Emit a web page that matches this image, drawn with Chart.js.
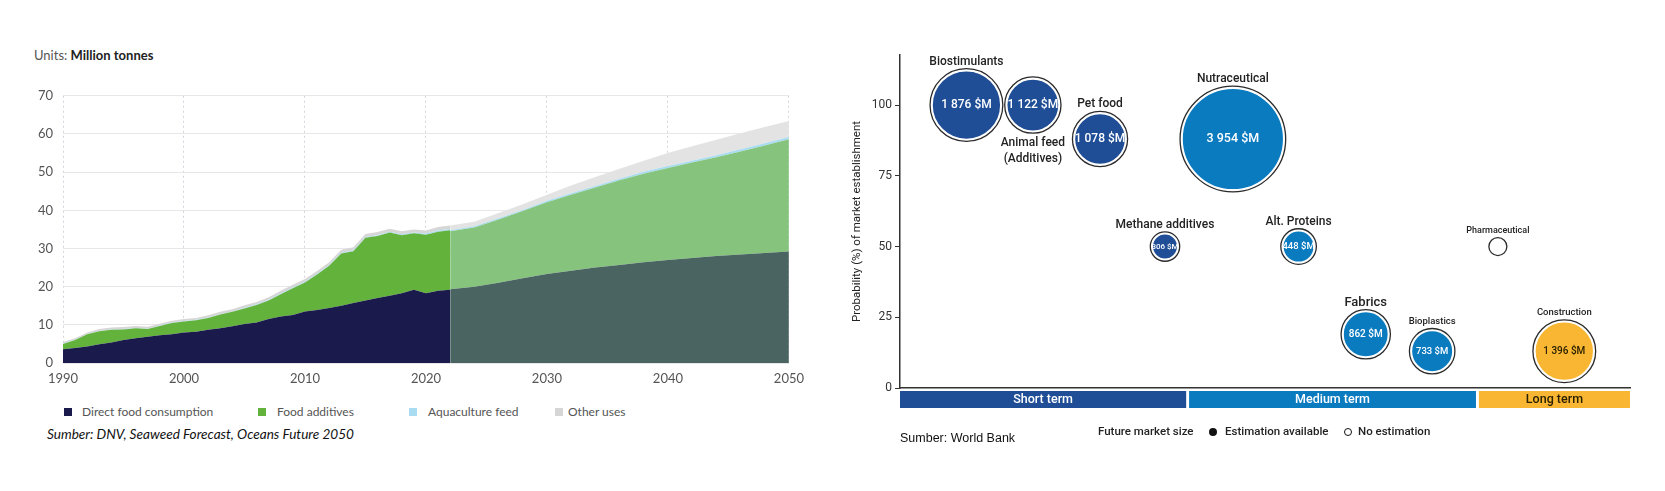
<!DOCTYPE html>
<html lang="en">
<head>
<meta charset="utf-8">
<title>Seaweed</title>
<script src="https://cdn.jsdelivr.net/npm/chart.js@4.4.1/dist/chart.umd.min.js"></script>
<style>
  body { margin: 0; width: 1665px; height: 491px; background: #fff; position: relative; overflow: hidden; }
  .abs { position: absolute; white-space: nowrap; }
  #units { left: 34px; top: 47px; font: 13px Lato, sans-serif; color: #555; }
  #units b { color: #222; }
  .lg { font: 12px Lato, sans-serif; color: #555; top: 404px; }
  .sq { position: absolute; width: 8px; height: 8px; top: 408px; }
  #src1 { left: 47px; top: 426px; font: italic 13.6px Lato, sans-serif; color: #111; }
  #src2 { left: 900px; top: 431px; font: 12.5px "Liberation Sans", sans-serif; color: #111; }
  .rl { top: 424px; font: 500 11.5px Roboto, sans-serif; color: #222; }
  .dot { position: absolute; width: 8px; height: 8px; border-radius: 50%; top: 428px; box-sizing: border-box; }
  #left { position: absolute; left: 2px; top: 78px; }
  #right { position: absolute; left: 842px; top: 40px; }
</style>
</head>
<body>
<div id="units" class="abs">Units: <b>Million tonnes</b></div>
<canvas id="left" width="810" height="316" style="width:810px;height:316px"></canvas>
<canvas id="right" width="790" height="385" style="width:790px;height:385px"></canvas>

<div class="sq" style="left:64px;background:#1b1a4d"></div>
<div class="abs lg" style="left:82px">Direct food consumption</div>
<div class="sq" style="left:258px;background:#63b23b"></div>
<div class="abs lg" style="left:277px">Food additives</div>
<div class="sq" style="left:409px;background:#a9dcf0"></div>
<div class="abs lg" style="left:428px">Aquaculture feed</div>
<div class="sq" style="left:555px;background:#d6d6d6"></div>
<div class="abs lg" style="left:568px">Other uses</div>
<div id="src1" class="abs">Sumber: DNV, Seaweed Forecast, Oceans Future 2050</div>

<div class="abs rl" style="left:1098px">Future market size</div>
<div class="dot" style="left:1209px;background:#111"></div>
<div class="abs rl" style="left:1225px">Estimation available</div>
<div class="dot" style="left:1344px;border:1.3px solid #111"></div>
<div class="abs rl" style="left:1358px">No estimation</div>
<div id="src2" class="abs">Sumber: World Bank</div>

<script>
// ---- left chart: seaweed use, million tonnes ----
const seriesNames = ['Direct food consumption', 'Food additives', 'Aquaculture feed', 'Other uses'];

const histYears = [1990,1991,1992,1993,1994,1995,1996,1997,1998,1999,2000,2001,2002,2003,2004,2005,
                   2006,2007,2008,2009,2010,2011,2012,2013,2014,2015,2016,2017,2018,2019,2020,2021,2022];
const histDirect = [3.6,3.9,4.3,4.9,5.4,6.0,6.5,6.9,7.3,7.5,8.0,8.2,8.7,9.1,9.6,10.2,
                    10.6,11.5,12.2,12.6,13.5,13.9,14.4,15.0,15.7,16.4,17.0,17.6,18.3,19.2,18.3,18.9,19.2];
const histAdditives = [1.4,2.1,3.2,3.4,3.3,2.8,2.6,2.0,2.4,3.0,2.9,3.0,3.1,3.6,3.8,4.1,
                       4.6,4.9,5.8,7.0,7.6,9.3,11.1,13.7,13.6,16.4,16.3,16.6,15.2,14.8,15.3,15.5,15.6];
const histAqua = [0.1,0.1,0.1,0.1,0.1,0.1,0.1,0.1,0.1,0.1,0.1,0.1,0.1,0.1,0.1,0.2,
                  0.2,0.2,0.2,0.2,0.2,0.2,0.2,0.2,0.2,0.2,0.2,0.2,0.2,0.2,0.3,0.3,0.3];
const histOther = [0.4,0.4,0.4,0.5,0.5,0.5,0.5,0.5,0.5,0.5,0.5,0.5,0.6,0.6,0.6,0.6,
                   0.6,0.6,0.7,0.7,0.7,0.7,0.7,0.8,0.8,0.8,0.8,0.8,0.8,0.8,0.8,0.9,0.9];

const projYears = [2022,2024,2026,2028,2030,2032,2034,2036,2038,2040,2042,2044,2046,2048,2050];
const projDirect = [19.3,20.0,21.0,22.2,23.3,24.2,25.0,25.7,26.4,27.0,27.5,28.0,28.4,28.8,29.2];
const projAdditives = [15.2,15.5,16.6,17.6,18.8,19.9,21.0,22.2,23.2,24.1,25.0,25.9,27.0,28.2,29.4];
const projAqua = [0.3,0.3,0.3,0.3,0.4,0.4,0.4,0.4,0.5,0.5,0.5,0.5,0.6,0.6,0.6];
const projOther = [1.2,1.2,1.4,1.5,1.6,2.0,2.3,2.6,2.9,3.4,3.8,4.1,4.2,4.2,4.2];

const yearTicks = [1990,2000,2010,2020,2030,2040,2050];
const tonneTicks = [0,10,20,30,40,50,60,70];

const histColors = ['#1b1a4d', '#63b23b', '#a9dcf0', '#d6d6d6'];
const projColors = ['#4a6462', '#86c47e', '#a9dcf0', '#e3e3e3'];

function areaSets(years, series, colors, stack) {
    return series.map((vals, i) => ({
        label: seriesNames[i],
        data: years.map((yr, j) => ({ x: yr, y: vals[j] })),
        stack: stack,
        fill: i === 0 ? 'origin' : '-1',
        backgroundColor: colors[i],
        borderWidth: 0,
        pointRadius: 0,
        tension: 0
    }));
}

const leftFont = { family: 'Lato', size: 13 };

new Chart(document.getElementById('left'), {
    type: 'line',
    data: {
        datasets: [
            ...areaSets(histYears, [histDirect, histAdditives, histAqua, histOther], histColors, 'hist'),
            ...areaSets(projYears, [projDirect, projAdditives, projAqua, projOther], projColors, 'proj')
        ]
    },
    options: {
        responsive: false,
        animation: false,
        layout: { autoPadding: false, padding: { top: 3, right: 20 } },
        plugins: { legend: { display: false }, tooltip: { enabled: false } },
        scales: {
            x: {
                type: 'linear', min: 1990, max: 2050, z: 1,
                afterBuildTicks: s => { s.ticks = yearTicks.map(v => ({ value: v })); },
                afterFit: s => { s.height = 31; },
                ticks: { font: leftFont, color: '#555', padding: 8, callback: v => String(v) },
                grid: { color: 'rgba(205,205,215,0.85)', drawTicks: false },
                border: { display: false, dash: [2, 3] }
            },
            y: {
                stacked: true, min: 0, max: 70, z: 1,
                afterBuildTicks: s => { s.ticks = tonneTicks.map(v => ({ value: v })); },
                afterFit: s => { s.width = 61; },
                ticks: { font: leftFont, color: '#555', padding: 10 },
                grid: { color: 'rgba(228,228,232,0.9)', drawTicks: false },
                border: { display: false }
            }
        }
    }
});

// ---- right chart: seaweed markets ----
const marketNames = [['Biostimulants'], ['Animal feed', '(Additives)'], ['Pet food'], ['Methane additives'],
                     ['Nutraceutical'], ['Alt. Proteins'], ['Fabrics'], ['Bioplastics'], ['Pharmaceutical'], ['Construction']];
const marketPos = [9.1, 18.2, 27.4, 36.3, 45.6, 54.6, 63.8, 72.9, 81.9, 91.0];
const marketProb = [100, 100, 88, 50, 88, 50, 19, 13, 50, 13];
const marketSize = [1876, 1122, 1078, 306, 3954, 448, 862, 733, null, 1396];
const marketTerm = [0, 0, 0, 0, 1, 1, 1, 1, 2, 2];

const termNames = ['Short term', 'Medium term', 'Long term'];
const termFrom = [0, 39.6, 79.3];
const termTo = [39.2, 78.9, 100];
const probTicks = [0, 25, 50, 75, 100];

const termColors = ['#1f4e96', '#0b7bc0', '#f8b632'];
const termText = ['#ffffff', '#ffffff', '#2b2100'];
const nameSize = [12, 12, 12, 12, 12, 12, 13, 9.5, 9, 9.5];
const valueSize = [12, 12, 12, 8, 12.5, 9.5, 10, 9.5, 0, 10];
const nameBelow = [false, true, false, false, false, false, false, false, false, false];

const ringR = i => marketSize[i] ? 0.84 * Math.sqrt(marketSize[i]) : 9;
const fmt = n => String(n).replace(/\B(?=(\d{3})+(?!\d))/g, ' ') + ' $M';

const bubbleDecor = {
    id: 'bubbleDecor',
    afterDatasetsDraw(chart) {
        const ctx = chart.ctx;
        chart.getDatasetMeta(0).data.forEach((el, i) => {
            const R = ringR(i);
            ctx.save();
            ctx.beginPath();
            ctx.arc(el.x, el.y, R, 0, Math.PI * 2);
            ctx.strokeStyle = '#2a2a2a';
            ctx.lineWidth = 1.3;
            ctx.stroke();
            ctx.textAlign = 'center';
            ctx.textBaseline = 'middle';
            if (marketSize[i]) {
                ctx.fillStyle = termText[marketTerm[i]];
                ctx.font = '500 ' + valueSize[i] + 'px Roboto';
                ctx.fillText(fmt(marketSize[i]), el.x, el.y);
            }
            ctx.fillStyle = '#222';
            ctx.font = '500 ' + nameSize[i] + 'px Roboto';
            const lines = marketNames[i];
            lines.forEach((t, k) => {
                const y = nameBelow[i] ? el.y + R + 10 + k * 16
                                       : el.y - R - 7 - (lines.length - 1 - k) * 16;
                ctx.fillText(t, el.x, y);
            });
            ctx.restore();
        });
    }
};

const termBars = {
    id: 'termBars',
    afterDraw(chart) {
        const ctx = chart.ctx, xs = chart.scales.x, top = chart.chartArea.bottom + 3;
        ctx.save();
        termNames.forEach((t, i) => {
            const x0 = xs.getPixelForValue(termFrom[i]), x1 = xs.getPixelForValue(termTo[i]);
            ctx.fillStyle = termColors[i];
            ctx.fillRect(x0, top, x1 - x0, 17);
            ctx.fillStyle = termText[i];
            ctx.font = '500 12.5px Roboto';
            ctx.textAlign = 'center';
            ctx.textBaseline = 'middle';
            ctx.fillText(t, (x0 + x1) / 2, top + 9);
        });
        ctx.restore();
    }
};

new Chart(document.getElementById('right'), {
    type: 'bubble',
    data: {
        datasets: [{
            label: 'Future market size',
            data: marketPos.map((x, i) => ({ x: x, y: marketProb[i], r: ringR(i) - 2 })),
            backgroundColor: marketSize.map((s, i) => s ? termColors[marketTerm[i]] : '#ffffff'),
            borderColor: '#ffffff',
            borderWidth: 1.5,
            clip: false
        }]
    },
    options: {
        responsive: false,
        animation: false,
        layout: { autoPadding: false, padding: { top: 15, right: 2 } },
        plugins: { legend: { display: false }, tooltip: { enabled: false } },
        scales: {
            x: {
                type: 'linear', min: 0, max: 100,
                afterFit: s => { s.height = 37; },
                ticks: { display: false },
                grid: { display: false },
                border: { display: true, color: '#333', width: 1.5 }
            },
            y: {
                min: 0, max: 117.7,
                afterBuildTicks: s => { s.ticks = probTicks.map(v => ({ value: v })); },
                afterFit: s => { s.width = 58; },
                ticks: { font: { family: 'Roboto', size: 12 }, color: '#333', padding: 3 },
                grid: { drawOnChartArea: false, drawTicks: true, tickLength: 5, tickColor: '#333' },
                border: { display: true, color: '#333', width: 1.5 },
                title: {
                    display: true, text: 'Probability (%) of market establishment',
                    font: { family: 'Roboto', size: 11.5 }, color: '#222', padding: { top: 8, bottom: 0 }
                }
            }
        }
    },
    plugins: [bubbleDecor, termBars]
});
</script>
</body>
</html>
